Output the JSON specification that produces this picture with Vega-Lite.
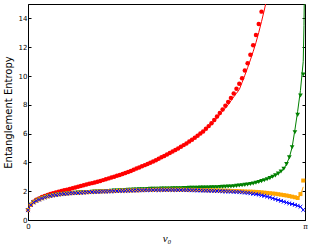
{
  "$schema": "https://vega.github.io/schema/vega-lite/v6.json",
  "width": 277,
  "height": 216,
  "autosize": "none",
  "padding": {"left": 28, "top": 4, "right": 8, "bottom": 28},
  "background": "white",
  "config": {
    "view": {"stroke": "black", "strokeWidth": 1},
    "axis": {"grid": false, "domainColor": "black", "tickColor": "black", "labelColor": "black", "titleColor": "black", "titleFontWeight": "normal", "domainWidth": 1, "tickWidth": 1}
  },
  "datasets": {
    "m": [
      {"v":0,"r":0.70,"g":0.69,"o":0.69,"b":0.68},
      {"v":0.0315,"r":1.05,"g":1.06,"o":1.06,"b":1.05},
      {"v":0.0631,"r":1.27,"g":1.23,"o":1.23,"b":1.22},
      {"v":0.0946,"r":1.40,"g":1.34,"o":1.34,"b":1.33},
      {"v":0.1261,"r":1.50,"g":1.43,"o":1.43,"b":1.42},
      {"v":0.1577,"r":1.59,"g":1.51,"o":1.51,"b":1.50},
      {"v":0.1892,"r":1.67,"g":1.58,"o":1.58,"b":1.57},
      {"v":0.2207,"r":1.74,"g":1.64,"o":1.64,"b":1.63},
      {"v":0.2522,"r":1.80,"g":1.68,"o":1.68,"b":1.67},
      {"v":0.2838,"r":1.86,"g":1.72,"o":1.72,"b":1.71},
      {"v":0.3153,"r":1.91,"g":1.75,"o":1.75,"b":1.74},
      {"v":0.3468,"r":1.96,"g":1.78,"o":1.78,"b":1.77},
      {"v":0.3784,"r":2.01,"g":1.80,"o":1.80,"b":1.79},
      {"v":0.4099,"r":2.06,"g":1.82,"o":1.82,"b":1.81},
      {"v":0.4414,"r":2.11,"g":1.84,"o":1.84,"b":1.83},
      {"v":0.4730,"r":2.16,"g":1.86,"o":1.86,"b":1.85},
      {"v":0.5045,"r":2.21,"g":1.87,"o":1.87,"b":1.86},
      {"v":0.5360,"r":2.26,"g":1.89,"o":1.88,"b":1.87},
      {"v":0.5675,"r":2.31,"g":1.90,"o":1.89,"b":1.88},
      {"v":0.5991,"r":2.36,"g":1.92,"o":1.91,"b":1.90},
      {"v":0.6306,"r":2.41,"g":1.93,"o":1.92,"b":1.91},
      {"v":0.6621,"r":2.46,"g":1.94,"o":1.93,"b":1.92},
      {"v":0.6937,"r":2.51,"g":1.95,"o":1.94,"b":1.93},
      {"v":0.7252,"r":2.56,"g":1.96,"o":1.95,"b":1.94},
      {"v":0.7567,"r":2.61,"g":1.97,"o":1.96,"b":1.95},
      {"v":0.7883,"r":2.66,"g":1.98,"o":1.97,"b":1.96},
      {"v":0.8198,"r":2.71,"g":1.99,"o":1.98,"b":1.97},
      {"v":0.8513,"r":2.77,"g":2.00,"o":1.99,"b":1.98},
      {"v":0.8828,"r":2.83,"g":2.01,"o":1.99,"b":1.98},
      {"v":0.9144,"r":2.89,"g":2.02,"o":2.00,"b":1.99},
      {"v":0.9459,"r":2.95,"g":2.03,"o":2.01,"b":2.00},
      {"v":0.9774,"r":3.01,"g":2.04,"o":2.01,"b":2.00},
      {"v":1.0090,"r":3.07,"g":2.05,"o":2.02,"b":2.01},
      {"v":1.0405,"r":3.13,"g":2.06,"o":2.03,"b":2.02},
      {"v":1.0720,"r":3.20,"g":2.07,"o":2.04,"b":2.03},
      {"v":1.1036,"r":3.27,"g":2.08,"o":2.04,"b":2.03},
      {"v":1.1351,"r":3.34,"g":2.09,"o":2.05,"b":2.04},
      {"v":1.1666,"r":3.41,"g":2.10,"o":2.05,"b":2.04},
      {"v":1.1981,"r":3.49,"g":2.11,"o":2.06,"b":2.05},
      {"v":1.2297,"r":3.57,"g":2.12,"o":2.06,"b":2.05},
      {"v":1.2612,"r":3.65,"g":2.13,"o":2.07,"b":2.06},
      {"v":1.2927,"r":3.73,"g":2.13,"o":2.08,"b":2.06},
      {"v":1.3243,"r":3.81,"g":2.14,"o":2.08,"b":2.07},
      {"v":1.3558,"r":3.89,"g":2.15,"o":2.09,"b":2.07},
      {"v":1.3873,"r":3.97,"g":2.16,"o":2.09,"b":2.08},
      {"v":1.4189,"r":4.06,"g":2.16,"o":2.09,"b":2.08},
      {"v":1.4504,"r":4.15,"g":2.17,"o":2.10,"b":2.08},
      {"v":1.4819,"r":4.25,"g":2.17,"o":2.10,"b":2.08},
      {"v":1.5134,"r":4.35,"g":2.18,"o":2.10,"b":2.09},
      {"v":1.5450,"r":4.45,"g":2.18,"o":2.10,"b":2.09},
      {"v":1.5765,"r":4.55,"g":2.19,"o":2.10,"b":2.09},
      {"v":1.6080,"r":4.65,"g":2.19,"o":2.10,"b":2.09},
      {"v":1.6396,"r":4.75,"g":2.20,"o":2.10,"b":2.09},
      {"v":1.6711,"r":4.86,"g":2.20,"o":2.10,"b":2.08},
      {"v":1.7026,"r":4.97,"g":2.21,"o":2.10,"b":2.08},
      {"v":1.7342,"r":5.08,"g":2.21,"o":2.10,"b":2.08},
      {"v":1.7657,"r":5.20,"g":2.22,"o":2.10,"b":2.08},
      {"v":1.7972,"r":5.32,"g":2.22,"o":2.09,"b":2.07},
      {"v":1.8287,"r":5.45,"g":2.23,"o":2.09,"b":2.07},
      {"v":1.8603,"r":5.58,"g":2.23,"o":2.09,"b":2.06},
      {"v":1.8918,"r":5.71,"g":2.24,"o":2.09,"b":2.06},
      {"v":1.9233,"r":5.85,"g":2.24,"o":2.08,"b":2.05},
      {"v":1.9549,"r":6.00,"g":2.25,"o":2.08,"b":2.05},
      {"v":1.9864,"r":6.15,"g":2.25,"o":2.07,"b":2.04},
      {"v":2.0179,"r":6.33,"g":2.26,"o":2.07,"b":2.04},
      {"v":2.0494,"r":6.52,"g":2.26,"o":2.06,"b":2.03},
      {"v":2.0810,"r":6.72,"g":2.27,"o":2.06,"b":2.03},
      {"v":2.1125,"r":6.94,"g":2.27,"o":2.05,"b":2.02},
      {"v":2.1440,"r":7.18,"g":2.28,"o":2.05,"b":2.01},
      {"v":2.1756,"r":7.43,"g":2.29,"o":2.04,"b":2.00},
      {"v":2.2071,"r":7.67,"g":2.30,"o":2.04,"b":1.99},
      {"v":2.2386,"r":7.93,"g":2.31,"o":2.03,"b":1.99},
      {"v":2.2702,"r":8.20,"g":2.32,"o":2.03,"b":1.98},
      {"v":2.3017,"r":8.48,"g":2.33,"o":2.02,"b":1.97},
      {"v":2.3332,"r":8.78,"g":2.35,"o":2.01,"b":1.96},
      {"v":2.3647,"r":9.11,"g":2.37,"o":2.01,"b":1.95},
      {"v":2.3963,"r":9.46,"g":2.39,"o":2.00,"b":1.93},
      {"v":2.4278,"r":9.85,"g":2.41,"o":1.99,"b":1.92},
      {"v":2.4593,"r":10.38,"g":2.44,"o":1.98,"b":1.90},
      {"v":2.4909,"r":10.89,"g":2.47,"o":1.97,"b":1.88},
      {"v":2.5224,"r":11.47,"g":2.50,"o":1.97,"b":1.85},
      {"v":2.5539,"r":12.13,"g":2.54,"o":1.96,"b":1.82},
      {"v":2.5855,"r":12.84,"g":2.59,"o":1.95,"b":1.79},
      {"v":2.6170,"r":13.61,"g":2.64,"o":1.94,"b":1.76},
      {"v":2.6485,"r":14.47,"g":2.70,"o":1.92,"b":1.72},
      {"v":2.6800,"g":2.76,"o":1.90,"b":1.68},
      {"v":2.7116,"g":2.83,"o":1.88,"b":1.63},
      {"v":2.7431,"g":2.91,"o":1.86,"b":1.57},
      {"v":2.7746,"g":3.00,"o":1.84,"b":1.51},
      {"v":2.8062,"g":3.10,"o":1.82,"b":1.45},
      {"v":2.8377,"g":3.22,"o":1.79,"b":1.39},
      {"v":2.8692,"g":3.37,"o":1.76,"b":1.33},
      {"v":2.9008,"g":3.56,"o":1.73,"b":1.27},
      {"v":2.9323,"g":3.88,"o":1.70,"b":1.21},
      {"v":2.9638,"g":4.35,"o":1.66,"b":1.16},
      {"v":2.9954,"g":5.05,"o":1.62,"b":1.11},
      {"v":3.0269,"g":6.10,"o":1.58,"b":1.05},
      {"v":3.0584,"g":7.30,"o":1.53,"b":0.99},
      {"v":3.0899,"g":8.65,"o":1.80,"b":0.92},
      {"v":3.1215,"g":10.10,"o":2.74,"b":0.70}
    ],
    "l": [
      {"v":0,"r":0.70,"g":0.69,"o":0.69,"b":0.68},
      {"v":0.0315,"r":1.05,"g":1.06,"o":1.06,"b":1.05},
      {"v":0.0631,"r":1.27,"g":1.23,"o":1.23,"b":1.22},
      {"v":0.0946,"r":1.40,"g":1.34,"o":1.34,"b":1.33},
      {"v":0.1261,"r":1.50,"g":1.43,"o":1.43,"b":1.42},
      {"v":0.1892,"r":1.67,"g":1.58,"o":1.58,"b":1.57},
      {"v":0.2522,"r":1.80,"g":1.68,"o":1.68,"b":1.67},
      {"v":0.3153,"r":1.91,"g":1.75,"o":1.75,"b":1.74},
      {"v":0.3784,"r":2.01,"g":1.80,"o":1.80,"b":1.79},
      {"v":0.4414,"r":2.11,"g":1.84,"o":1.84,"b":1.83},
      {"v":0.5045,"r":2.21,"g":1.87,"o":1.87,"b":1.86},
      {"v":0.5675,"r":2.31,"g":1.90,"o":1.89,"b":1.88},
      {"v":0.6306,"r":2.41,"g":1.93,"o":1.92,"b":1.91},
      {"v":0.7567,"r":2.61,"g":1.97,"o":1.96,"b":1.95},
      {"v":0.8828,"r":2.83,"g":2.01,"o":1.99,"b":1.98},
      {"v":1.0090,"r":3.07,"g":2.05,"o":2.02,"b":2.01},
      {"v":1.1351,"r":3.34,"g":2.09,"o":2.05,"b":2.04},
      {"v":1.2612,"r":3.65,"g":2.13,"o":2.07,"b":2.06},
      {"v":1.3873,"r":3.97,"g":2.16,"o":2.09,"b":2.08},
      {"v":1.5134,"r":4.35,"g":2.18,"o":2.10,"b":2.09},
      {"v":1.6396,"r":4.75,"g":2.20,"o":2.10,"b":2.09},
      {"v":1.7657,"r":5.20,"g":2.22,"o":2.10,"b":2.08},
      {"v":1.8918,"r":5.69,"g":2.24,"o":2.09,"b":2.06},
      {"v":1.9549,"r":5.97,"g":2.25,"o":2.08,"b":2.05},
      {"v":2.0179,"r":6.29,"g":2.26,"o":2.07,"b":2.04},
      {"v":2.0810,"r":6.65,"g":2.27,"o":2.06,"b":2.03},
      {"v":2.1440,"r":7.08,"g":2.28,"o":2.05,"b":2.01},
      {"v":2.2071,"r":7.55,"g":2.30,"o":2.04,"b":1.99},
      {"v":2.2702,"r":8.00,"g":2.32,"o":2.03,"b":1.98},
      {"v":2.3332,"r":8.55,"g":2.35,"o":2.01,"b":1.96},
      {"v":2.3647,"r":8.80,"g":2.37,"o":2.01,"b":1.95},
      {"v":2.3963,"r":9.06,"g":2.39,"o":2.00,"b":1.93},
      {"v":2.4278,"r":9.55,"g":2.41,"o":1.99,"b":1.92},
      {"v":2.4593,"r":10.05,"g":2.44,"o":1.98,"b":1.90},
      {"v":2.4909,"r":10.58,"g":2.47,"o":1.97,"b":1.88},
      {"v":2.5224,"r":11.12,"g":2.50,"o":1.97,"b":1.85},
      {"v":2.5539,"r":11.70,"g":2.54,"o":1.96,"b":1.82},
      {"v":2.5855,"r":12.32,"g":2.59,"o":1.95,"b":1.79},
      {"v":2.6170,"r":13.02,"g":2.64,"o":1.94,"b":1.76},
      {"v":2.6485,"r":13.78,"g":2.70,"o":1.92,"b":1.72},
      {"v":2.6800,"r":14.58,"g":2.76,"o":1.90,"b":1.68},
      {"v":2.7116,"r":15.45,"g":2.83,"o":1.88,"b":1.63},
      {"v":2.7431,"g":2.91,"o":1.86,"b":1.57},
      {"v":2.7746,"g":3.00,"o":1.84,"b":1.51},
      {"v":2.8062,"g":3.10,"o":1.82,"b":1.45},
      {"v":2.8377,"g":3.22,"o":1.79,"b":1.39},
      {"v":2.8692,"g":3.37,"o":1.76,"b":1.33},
      {"v":2.9008,"g":3.56,"o":1.73,"b":1.27},
      {"v":2.9323,"g":3.88,"o":1.70,"b":1.21},
      {"v":2.9638,"g":4.35,"o":1.66,"b":1.16},
      {"v":2.9954,"g":5.05,"o":1.62,"b":1.11},
      {"v":3.0269,"g":6.25,"o":1.58,"b":1.05},
      {"v":3.0584,"g":7.55,"o":1.53,"b":0.99},
      {"v":3.0899,"g":9.00,"o":1.70,"b":0.92},
      {"v":3.1215,"g":11.00,"o":2.30,"b":0.70},
      {"v":3.1300,"g":13.50},
      {"v":3.1370,"g":17.00}
    ]
  },
  "resolve": {"axis": {"y": "independent"}},
  "layer": [
    {
      "data": {"name": "l"},
      "transform": [
        {"fold": ["r", "g", "o", "b"], "as": ["s", "S"]},
        {"filter": "isValid(datum.S)"}
      ],
      "mark": {"type": "line", "clip": true, "strokeWidth": 1},
      "encoding": {
        "x": {
          "field": "v", "type": "quantitative",
          "scale": {"domain": [0, 3.14159265], "nice": false, "zero": false},
          "axis": {
            "values": [0, 3.14159265],
            "labelExpr": "datum.value < 1 ? '0' : 'π'",
            "labelFont": {"condition": {"test": "datum.value > 1", "value": "DejaVu Serif"}, "value": "DejaVu Sans"},
            "labelFontSize": 7,
            "labelFlush": false,
            "labelOverlap": false,
            "tickSize": -3,
            "labelPadding": 5,
            "title": "v₀",
            "titleFont": "Liberation Serif",
            "titleFontStyle": "italic",
            "titleFontSize": 11,
            "titlePadding": 3
          }
        },
        "y": {
          "field": "S", "type": "quantitative",
          "scale": {"domain": [0, 15], "nice": false},
          "axis": {
            "values": [0, 2, 4, 6, 8, 10, 12, 14],
            "labelFont": "DejaVu Sans",
            "labelFontSize": 7,
            "tickSize": -3,
            "labelPadding": 4,
            "title": "Entanglement Entropy",
            "titleFont": "DejaVu Sans",
            "titleFontSize": 10,
            "titlePadding": 5
          }
        },
        "color": {
          "field": "s", "type": "nominal",
          "scale": {"domain": ["r", "g", "o", "b"], "range": ["#ff0000", "#008000", "#ffa500", "#0000ff"]},
          "legend": null
        }
      }
    },
    {
      "data": {"name": "m"},
      "transform": [{"filter": "isValid(datum.r)"}],
      "mark": {"type": "point", "shape": "circle", "filled": true, "color": "#ff0000", "size": 20, "opacity": 1},
      "encoding": {
        "x": {"field": "v", "type": "quantitative"},
        "y": {"field": "r", "type": "quantitative", "axis": {"orient": "right", "values": [0, 2, 4, 6, 8, 10, 12, 14], "labels": false, "domain": false, "tickSize": -3, "title": null}}
      }
    },
    {
      "data": {"name": "m"},
      "mark": {"type": "point", "shape": "triangle-down", "filled": true, "color": "#008000", "size": 22, "opacity": 1},
      "encoding": {
        "x": {"field": "v", "type": "quantitative"},
        "y": {"field": "g", "type": "quantitative", "axis": null}
      }
    },
    {
      "data": {"name": "m"},
      "mark": {"type": "point", "shape": "square", "filled": true, "color": "#ffa500", "size": 16, "opacity": 1},
      "encoding": {
        "x": {"field": "v", "type": "quantitative"},
        "y": {"field": "o", "type": "quantitative", "axis": null}
      }
    },
    {
      "data": {"name": "m"},
      "mark": {"type": "point", "shape": "M-1,-1L1,1M-1,1L1,-1", "filled": false, "stroke": "#0000ff", "strokeWidth": 1, "size": 14, "opacity": 1},
      "encoding": {
        "x": {"field": "v", "type": "quantitative"},
        "y": {"field": "b", "type": "quantitative", "axis": null}
      }
    }
  ]
}
